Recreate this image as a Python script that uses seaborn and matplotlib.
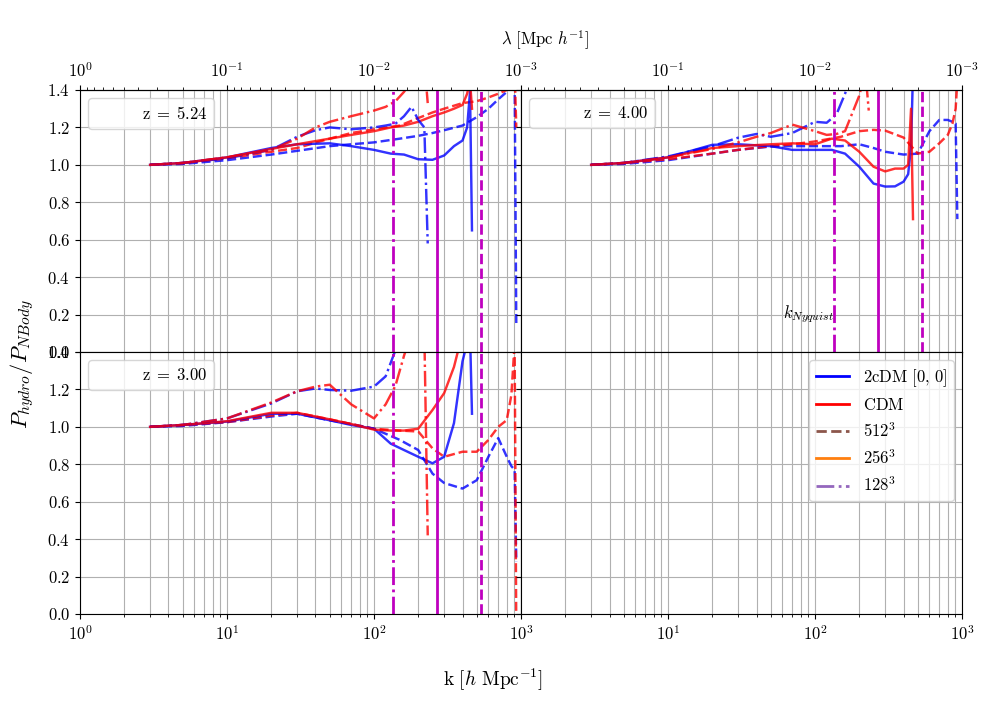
import matplotlib

matplotlib.use("Agg")
import matplotlib.pyplot as plt
import numpy as np
import pandas as pd
import seaborn as sns
from matplotlib.lines import Line2D

# wavenumber grids per resolution (h/Mpc)
K_128 = [3, 5, 10, 20, 30, 40, 50, 70, 100, 120, 140, 160, 180, 200, 220, 232]
K_256 = [3, 5, 10, 20, 30, 50, 70, 100, 130, 160, 200, 250, 300, 350, 400, 430, 450, 464]
K_512 = [3, 5, 10, 20, 30, 50, 70, 100, 150, 200, 250, 300, 400, 500, 600, 700, 800, 860, 905, 929]

# Nyquist wavenumbers for 512^3, 256^3, 128^3
K_NYQUIST = [536.2, 268.1, 134.0]

REDSHIFTS = ["5.24", "4.00", "3.00"]

# z = 5.24
Z524_2CDM_128 = [1.0, 1.01, 1.035, 1.08, 1.15, 1.185, 1.2, 1.19, 1.2, 1.21, 1.22, 1.26, 1.31, 1.24, 1.2, 0.58]
Z524_CDM_128 = [1.0, 1.01, 1.04, 1.08, 1.14, 1.2, 1.23, 1.26, 1.29, 1.31, 1.34, 1.39, 1.45, 1.5, 1.55, 1.33]
Z524_2CDM_256 = [1.0, 1.01, 1.04, 1.09, 1.11, 1.115, 1.1, 1.08, 1.06, 1.055, 1.03, 1.027, 1.05, 1.1, 1.13, 1.2, 1.39, 0.65]
Z524_CDM_256 = [1.0, 1.01, 1.04, 1.085, 1.11, 1.14, 1.16, 1.18, 1.2, 1.21, 1.23, 1.26, 1.28, 1.3, 1.32, 1.38, 1.45, 1.3]
Z524_2CDM_512 = [1.0, 1.005, 1.025, 1.055, 1.075, 1.1, 1.11, 1.12, 1.14, 1.155, 1.17, 1.185, 1.21, 1.255, 1.3, 1.35, 1.39, 1.43, 1.45, 0.14]
Z524_CDM_512 = [1.0, 1.01, 1.035, 1.07, 1.09, 1.14, 1.17, 1.19, 1.21, 1.25, 1.28, 1.3, 1.33, 1.34, 1.36, 1.38, 1.4, 1.45, 1.5, 1.2]

# z = 4.00
Z400_2CDM_128 = [1.0, 1.01, 1.045, 1.1, 1.145, 1.165, 1.15, 1.17, 1.23, 1.225, 1.27, 1.38, 1.5, 1.55, 1.6, 1.6]
Z400_CDM_128 = [1.0, 1.01, 1.04, 1.085, 1.12, 1.15, 1.17, 1.215, 1.18, 1.16, 1.165, 1.18, 1.28, 1.37, 1.5, 1.29]
Z400_2CDM_256 = [1.0, 1.01, 1.04, 1.107, 1.11, 1.1, 1.08, 1.08, 1.08, 1.06, 0.99, 0.9, 0.884, 0.885, 0.91, 0.95, 1.1, 1.5]
Z400_CDM_256 = [1.0, 1.01, 1.04, 1.09, 1.1, 1.11, 1.115, 1.11, 1.14, 1.13, 1.07, 0.99, 0.965, 0.98, 0.98, 1.0, 1.3, 0.71]
Z400_2CDM_512 = [1.0, 1.005, 1.025, 1.06, 1.08, 1.098, 1.1, 1.1, 1.1, 1.11, 1.09, 1.07, 1.055, 1.06, 1.18, 1.24, 1.24, 1.23, 1.22, 0.71]
Z400_CDM_512 = [1.0, 1.01, 1.03, 1.06, 1.08, 1.1, 1.11, 1.125, 1.15, 1.18, 1.187, 1.183, 1.146, 1.06, 1.07, 1.115, 1.16, 1.22, 1.3, 1.45]

# z = 3.00
Z300_2CDM_128 = [1.0, 1.01, 1.045, 1.125, 1.19, 1.205, 1.197, 1.193, 1.215, 1.27, 1.41, 1.5, 1.55, 1.6, 1.6, 1.6]
Z300_CDM_128 = [1.0, 1.01, 1.045, 1.13, 1.19, 1.215, 1.225, 1.12, 1.045, 1.12, 1.22, 1.38, 1.5, 1.5, 1.5, 0.42]
Z300_2CDM_256 = [1.0, 1.01, 1.028, 1.07, 1.07, 1.035, 1.01, 0.99, 0.91, 0.876, 0.84, 0.805, 0.84, 1.02, 1.35, 1.45, 1.5, 1.07]
Z300_CDM_256 = [1.0, 1.01, 1.03, 1.075, 1.075, 1.04, 1.015, 0.985, 0.98, 0.98, 0.99, 1.09, 1.18, 1.32, 1.5, 1.55, 1.6, 1.6]
Z300_2CDM_512 = [1.0, 1.005, 1.025, 1.055, 1.07, 1.035, 1.015, 0.99, 0.93, 0.876, 0.75, 0.7, 0.67, 0.715, 0.84, 0.94, 0.84, 0.79, 0.77, 0.28]
Z300_CDM_512 = [1.0, 1.01, 1.025, 1.06, 1.075, 1.04, 1.015, 0.99, 0.98, 0.975, 0.885, 0.84, 0.867, 0.867, 0.93, 1.0, 1.036, 1.17, 1.45, -0.1]

# データをlong形式にまとめる
curves = {
    ("5.24", "2cDM", 128): Z524_2CDM_128,
    ("5.24", "CDM", 128): Z524_CDM_128,
    ("5.24", "2cDM", 256): Z524_2CDM_256,
    ("5.24", "CDM", 256): Z524_CDM_256,
    ("5.24", "2cDM", 512): Z524_2CDM_512,
    ("5.24", "CDM", 512): Z524_CDM_512,
    ("4.00", "2cDM", 128): Z400_2CDM_128,
    ("4.00", "CDM", 128): Z400_CDM_128,
    ("4.00", "2cDM", 256): Z400_2CDM_256,
    ("4.00", "CDM", 256): Z400_CDM_256,
    ("4.00", "2cDM", 512): Z400_2CDM_512,
    ("4.00", "CDM", 512): Z400_CDM_512,
    ("3.00", "2cDM", 128): Z300_2CDM_128,
    ("3.00", "CDM", 128): Z300_CDM_128,
    ("3.00", "2cDM", 256): Z300_2CDM_256,
    ("3.00", "CDM", 256): Z300_CDM_256,
    ("3.00", "2cDM", 512): Z300_2CDM_512,
    ("3.00", "CDM", 512): Z300_CDM_512,
}
k_grid = {128: K_128, 256: K_256, 512: K_512}

rows = []
for (z, model, res), vals in curves.items():
    for k, v in zip(k_grid[res], vals):
        rows.append({"z": z, "model": model, "res": res, "k": k, "ratio": v})
df = pd.DataFrame(rows)

colors = {"2cDM": "blue", "CDM": "red"}
linestyles = {512: "--", 256: "-", 128: "-."}

plt.rcParams["font.family"] = "serif"
plt.rcParams["font.serif"] = ["cmr10", "DejaVu Serif"]
plt.rcParams["mathtext.fontset"] = "cm"
plt.rcParams["axes.formatter.use_mathtext"] = True
plt.rcParams["xtick.labelsize"] = 12
plt.rcParams["ytick.labelsize"] = 12


def inv(x):
    x = np.array(x, dtype=float)
    with np.errstate(divide="ignore"):
        return 1.0 / x


fig, axes = plt.subplots(2, 2, figsize=(9.96, 7.02), dpi=100)
fig.subplots_adjust(left=0.0803, right=0.9659, top=0.8718, bottom=0.1254,
                    hspace=0, wspace=0)
panels = {"5.24": axes[0, 0], "4.00": axes[0, 1], "3.00": axes[1, 0]}

for ax in axes.flat:
    ax.set_xscale("log")
    ax.set_xlim(1, 1000)
    ax.set_ylim(0, 1.4)
    ax.set_yticks(np.arange(0, 1.41, 0.2))
    ax.grid(True, which="both", color="#b0b0b0", lw=0.8)
    ax.set_axisbelow(True)

for z, ax in panels.items():
    for res in [512, 256, 128]:
        for model in ["2cDM", "CDM"]:
            sub = df[(df["z"] == z) & (df["model"] == model) & (df["res"] == res)]
            sns.lineplot(data=sub, x="k", y="ratio", ax=ax, color=colors[model],
                         linestyle=linestyles[res], alpha=0.8, lw=1.75,
                         errorbar=None, legend=False)
    for kn, res in zip(K_NYQUIST, [512, 256, 128]):
        ax.axvline(kn, color="m", ls=linestyles[res], lw=2)
    ax.set_xlabel("")
    ax.set_ylabel("")
    ax.legend(handles=[Line2D([], [], ls="none")],
              labels=[rf"$\mathrm{{z\;=\;{z}}}$"], loc="upper left", fontsize=12)

axes[0, 1].text(K_NYQUIST[2], 0.2, r"$k_{Nyquist}$", ha="right", va="center",
                fontsize=12)

# 上側の波長軸
for ax in axes[0]:
    secax = ax.secondary_xaxis("top", functions=(inv, inv))
    if ax is axes[0, 1]:
        secax.set_xticks([1e-1, 1e-2, 1e-3])

for ax in axes[0]:
    ax.tick_params(labelbottom=False)
for ax in axes[:, 1]:
    ax.tick_params(labelleft=False)
axes[1, 1].set_xticks([10, 100, 1000])

handles = [
    Line2D([], [], color="blue", lw=2, label=r"$\mathrm{2cDM\ [0,\,0]}$"),
    Line2D([], [], color="red", lw=2, label=r"$\mathrm{CDM}$"),
    Line2D([], [], color="tab:brown", lw=2, ls="--", label=r"$512^3$"),
    Line2D([], [], color="tab:orange", lw=2, label=r"$256^3$"),
    Line2D([], [], color="tab:purple", lw=2, ls="-.", label=r"$128^3$"),
]
axes[1, 1].legend(handles=handles, loc="upper right", fontsize=12)

fig.text(545 / 996, 1 - 40 / 702, r"$\lambda\ [\mathrm{Mpc}\ h^{-1}]$",
         ha="center", va="center", fontsize=12)
fig.text(493 / 996, 1 - 680 / 702, r"$\mathrm{k}\ [h\ \mathrm{Mpc}^{-1}]$",
         ha="center", va="center", fontsize=14)
fig.text(22 / 996, 1 - 364 / 702, r"$P_{hydro}/P_{NBody}$", rotation=90,
         ha="center", va="center", fontsize=16)

fig.savefig("out.png", dpi=100)
